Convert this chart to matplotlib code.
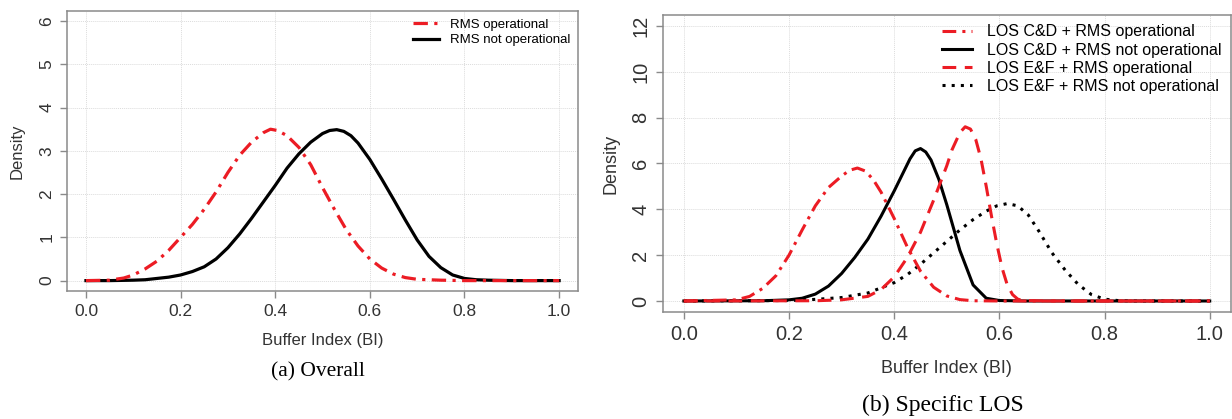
import matplotlib
matplotlib.use("Agg")
import matplotlib.pyplot as plt

plt.rcParams["font.family"] = ["Liberation Sans", "DejaVu Sans"]

# (a) Overall
a_red_x = [0, 0.05, 0.08, 0.1, 0.125, 0.15, 0.175, 0.2, 0.225, 0.25, 0.275, 0.3, 0.325, 0.35,
           0.375, 0.39, 0.405, 0.425, 0.45, 0.475, 0.5, 0.525, 0.55, 0.575, 0.6, 0.625, 0.65,
           0.675, 0.7, 0.75, 0.8, 1.0]
a_red_y = [0, 0.01, 0.06, 0.13, 0.27, 0.45, 0.7, 1.0, 1.3, 1.65, 2.05, 2.5, 2.9, 3.2,
           3.42, 3.5, 3.47, 3.35, 3.08, 2.68, 2.15, 1.65, 1.18, 0.8, 0.5, 0.29, 0.15,
           0.07, 0.03, 0.01, 0, 0]
a_blk_x = [0, 0.05, 0.1, 0.125, 0.15, 0.175, 0.2, 0.225, 0.25, 0.275, 0.3, 0.325, 0.35, 0.375,
           0.4, 0.425, 0.45, 0.475, 0.5, 0.515, 0.53, 0.545, 0.56, 0.575, 0.6, 0.625, 0.65,
           0.675, 0.7, 0.725, 0.75, 0.775, 0.8, 0.825, 0.85, 0.9, 1.0]
a_blk_y = [0, 0, 0.01, 0.02, 0.05, 0.08, 0.13, 0.21, 0.32, 0.5, 0.76, 1.08, 1.44, 1.82,
           2.2, 2.6, 2.93, 3.2, 3.4, 3.47, 3.49, 3.45, 3.35, 3.18, 2.8, 2.35, 1.88,
           1.4, 0.94, 0.56, 0.3, 0.13, 0.05, 0.02, 0.01, 0, 0]
a_labels = ["RMS operational", "RMS not operational"]

# (b) Specific LOS
b_cd_op_x = [0, 0.1, 0.125, 0.15, 0.175, 0.2, 0.225, 0.25, 0.275, 0.3, 0.315, 0.33, 0.345,
             0.36, 0.375, 0.4, 0.425, 0.45, 0.475, 0.5, 0.525, 0.55, 0.6, 1.0]
b_cd_op_y = [0, 0.05, 0.2, 0.55, 1.1, 2.0, 3.1, 4.15, 4.95, 5.45, 5.7, 5.8, 5.67,
             5.3, 4.75, 3.6, 2.35, 1.3, 0.6, 0.22, 0.06, 0.01, 0, 0]
b_cd_no_x = [0, 0.15, 0.2, 0.225, 0.25, 0.275, 0.3, 0.325, 0.35, 0.375, 0.4, 0.415, 0.43,
             0.44, 0.45, 0.46, 0.47, 0.485, 0.5, 0.525, 0.55, 0.575, 0.6, 0.65, 1.0]
b_cd_no_y = [0, 0.01, 0.05, 0.12, 0.3, 0.65, 1.2, 1.9, 2.7, 3.7, 4.8, 5.5, 6.2,
             6.55, 6.65, 6.5, 6.15, 5.3, 4.2, 2.2, 0.7, 0.12, 0.02, 0, 0]
b_ef_op_x = [0, 0.25, 0.3, 0.35, 0.375, 0.4, 0.425, 0.45, 0.475, 0.5, 0.51, 0.525, 0.535,
             0.545, 0.555, 0.565, 0.575, 0.585, 0.595, 0.605, 0.615, 0.625, 0.635, 0.645,
             0.7, 1.0]
b_ef_op_y = [0, 0.01, 0.05, 0.2, 0.5, 1.05, 1.9, 3.0, 4.4, 5.9, 6.6, 7.35, 7.6,
             7.5, 7.05, 6.2, 5.0, 3.7, 2.5, 1.45, 0.7, 0.28, 0.08, 0.02, 0, 0]
b_ef_no_x = [0, 0.2, 0.25, 0.3, 0.35, 0.4, 0.425, 0.45, 0.475, 0.5, 0.525, 0.55, 0.575, 0.595,
             0.615, 0.635, 0.655, 0.675, 0.7, 0.725, 0.75, 0.775, 0.8, 0.825, 0.85, 1.0]
b_ef_no_y = [0, 0.02, 0.07, 0.15, 0.35, 0.8, 1.15, 1.6, 2.1, 2.6, 3.1, 3.55, 3.92, 4.15,
             4.25, 4.15, 3.75, 3.05, 2.1, 1.35, 0.72, 0.28, 0.08, 0.02, 0, 0]
b_labels = ["LOS C&D + RMS operational", "LOS C&D + RMS not operational",
            "LOS E&F + RMS operational", "LOS E&F + RMS not operational"]

x_ticks = [0.0, 0.2, 0.4, 0.6, 0.8, 1.0]
a_yticks = [0, 1, 2, 3, 4, 5, 6]
b_yticks = [0, 2, 4, 6, 8, 10, 12]

RED = "#ec1c24"
GRAY = "#8a8a8a"


def style_axes(ax, yticks, tick_fs):
    ax.set_xlim(-0.04, 1.04)
    ax.set_ylim(-0.04 * yticks[-1], 1.04 * yticks[-1])
    ax.set_xticks(x_ticks)
    ax.set_xticklabels([f"{t:.1f}" for t in x_ticks])
    ax.set_yticks(yticks)
    ax.grid(True, color="#dcdcdc", lw=0.7, ls=(0, (1, 1)))
    ax.set_axisbelow(True)
    for s in ax.spines.values():
        s.set_color(GRAY)
        s.set_linewidth(1.1)
    ax.tick_params(colors=GRAY, labelcolor="#333333", length=5, width=1.0,
                   labelsize=tick_fs)
    ax.tick_params(axis="x", pad=4.5)
    ax.tick_params(axis="y", pad=4, labelrotation=90)
    for lab in ax.get_yticklabels():
        lab.set_va("center")


fig = plt.figure(figsize=(12.32, 4.19), dpi=100)

ax1 = fig.add_axes([0.0544, 0.3055, 0.4148, 0.669])
ax1.plot(a_red_x, a_red_y, color=RED, lw=2.3, dashes=(4.5, 2, 1, 2), zorder=4, label=a_labels[0])
ax1.plot(a_blk_x, a_blk_y, color="black", lw=2.3, zorder=3, label=a_labels[1])
style_axes(ax1, a_yticks, 12.5)
ax1.set_xlabel("Buffer Index (BI)", fontsize=12, color="#333333", va="center")
ax1.xaxis.set_label_coords(0.5, -0.175)
ax1.set_ylabel("Density", fontsize=12, color="#333333", va="center")
ax1.yaxis.set_label_coords(-0.098, 0.5)
ax1.legend(loc="upper right", frameon=False, fontsize=9.5, handlelength=1.9,
           handletextpad=0.85, labelspacing=0.25, borderaxespad=0.3, borderpad=0.3)

ax2 = fig.add_axes([0.538, 0.2554, 0.461, 0.709])
ax2.plot(b_cd_op_x, b_cd_op_y, color=RED, lw=2.2, dashes=(4.5, 2, 1, 2), zorder=5, label=b_labels[0])
ax2.plot(b_cd_no_x, b_cd_no_y, color="black", lw=2.2, zorder=3, label=b_labels[1])
ax2.plot(b_ef_op_x, b_ef_op_y, color=RED, lw=2.2, dashes=(4.5, 2.8), zorder=4, label=b_labels[2])
ax2.plot(b_ef_no_x, b_ef_no_y, color="black", lw=2.2, dashes=(1, 2), zorder=3.5, label=b_labels[3])
style_axes(ax2, b_yticks, 14.5)
ax2.set_xlabel("Buffer Index (BI)", fontsize=13, color="#333333", va="center")
ax2.xaxis.set_label_coords(0.5, -0.1886)
ax2.set_ylabel("Density", fontsize=13, color="#333333", va="center")
ax2.yaxis.set_label_coords(-0.0915, 0.5)
ax2.legend(loc="upper right", frameon=False, fontsize=11.5, handlelength=1.9,
           handletextpad=0.9, labelspacing=0.2, borderaxespad=0.3, borderpad=0.3)

fig.text(0.258, 0.112, "(a) Overall", family="Liberation Serif", fontsize=15.5,
         ha="center", va="center")
fig.text(0.765, 0.0334, "(b) Specific LOS", family="Liberation Serif", fontsize=17,
         ha="center", va="center")

fig.savefig("out.png", dpi=100)
